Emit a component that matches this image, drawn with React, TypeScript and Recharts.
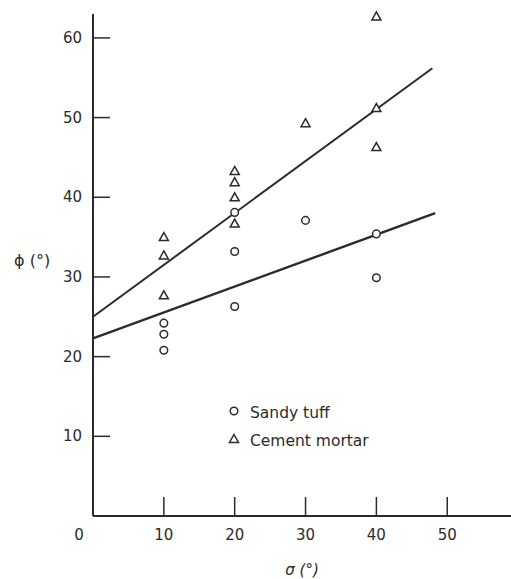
import { ScatterChart, Scatter, XAxis, YAxis, ReferenceLine, Legend, Label } from 'recharts';

// σ (°) vs ϕ (°)
const sandyTuff = [
  { sigma: 10, phi: 24.2 },
  { sigma: 10, phi: 22.8 },
  { sigma: 10, phi: 20.8 },
  { sigma: 20, phi: 38.1 },
  { sigma: 20, phi: 33.2 },
  { sigma: 20, phi: 26.3 },
  { sigma: 30, phi: 37.1 },
  { sigma: 40, phi: 35.4 },
  { sigma: 40, phi: 29.9 }
];

const cementMortar = [
  { sigma: 10, phi: 35.0 },
  { sigma: 10, phi: 32.7 },
  { sigma: 10, phi: 27.7 },
  { sigma: 20, phi: 43.3 },
  { sigma: 20, phi: 41.9 },
  { sigma: 20, phi: 40.0 },
  { sigma: 20, phi: 36.7 },
  { sigma: 30, phi: 49.3 },
  { sigma: 40, phi: 62.7 },
  { sigma: 40, phi: 51.2 },
  { sigma: 40, phi: 46.3 }
];

// fitted lines
const mortarFit = [{ x: 0, y: 25.0 }, { x: 47.9, y: 56.2 }];
const tuffFit = [{ x: 0, y: 22.3 }, { x: 48.3, y: 38.0 }];

const seriesNames = ['Sandy tuff', 'Cement mortar'];
const xTicks = [0, 10, 20, 30, 40, 50];
const yTicks = [10, 20, 30, 40, 50, 60];

const INK = '#2b2b2b';
const FONT = '"DejaVu Sans", sans-serif';

const CircleMark = (p: any) => (
  <circle cx={p.cx} cy={p.cy} r={3.8} fill="#fff" stroke={INK} strokeWidth={1.5} />
);

const TriangleMark = (p: any) => {
  const { cx, cy } = p;
  return (
    <path
      d={`M${cx},${cy - 4.5} L${cx + 4.5},${cy + 3.5} L${cx - 4.5},${cy + 3.5} Z`}
      fill="#fff"
      stroke={INK}
      strokeWidth={1.5}
    />
  );
};

const XTick = (p: any) => {
  const { x, y, payload } = p;
  const zero = payload.value === 0;
  return (
    <g>
      {!zero && <line x1={x} x2={x} y1={y} y2={y - 19} stroke={INK} strokeWidth={1.5} />}
      <text x={zero ? x - 14 : x} y={y + 24} textAnchor="middle" fill={INK} fontSize={15} fontFamily={FONT}>
        {payload.value}
      </text>
    </g>
  );
};

const YTick = (p: any) => {
  const { x, y, payload } = p;
  return (
    <g>
      <line x1={x} x2={x + 17} y1={y} y2={y} stroke={INK} strokeWidth={1.5} />
      <text x={x - 11} y={y + 5} textAnchor="end" fill={INK} fontSize={15} fontFamily={FONT}>
        {payload.value}
      </text>
    </g>
  );
};

const LegendBox = (props: any) => {
  const items = [...(props.payload || [])].sort(
    (a: any, b: any) => seriesNames.indexOf(a.value) - seriesNames.indexOf(b.value)
  );
  return (
    <svg width={180} height={60} style={{ overflow: 'visible' }}>
      {items.map((it: any, i: number) => (
        <g key={it.value} transform={`translate(0, ${i * 28})`}>
          {it.value === seriesNames[0] ? <CircleMark cx={6} cy={11} /> : <TriangleMark cx={6} cy={11} />}
          <text x={22} y={18} fill={INK} fontSize={15.5} fontFamily={FONT}>
            {it.value}
          </text>
        </g>
      ))}
    </svg>
  );
};

export default function App() {
  return (
    <div style={{ position: 'absolute', left: 0, top: 0, width: 511, height: 579, background: '#fff' }}>
      <ScatterChart width={511} height={579} margin={{ top: 14, right: 0, bottom: 0, left: 0 }}>
        <XAxis
          type="number"
          dataKey="sigma"
          domain={[0, 59]}
          ticks={xTicks}
          interval={0}
          tickSize={0}
          tickMargin={0}
          tickLine={false}
          tick={<XTick />}
          height={63}
          axisLine={{ stroke: INK, strokeWidth: 2 }}
        >
          <Label value="σ (°)" position="insideBottom" offset={4} fill={INK} fontSize={15} fontFamily={FONT} fontStyle="italic" />
        </XAxis>
        <YAxis
          type="number"
          dataKey="phi"
          domain={[0, 63]}
          ticks={yTicks}
          interval={0}
          tickSize={0}
          tickMargin={0}
          tickLine={false}
          tick={<YTick />}
          width={93}
          axisLine={{ stroke: INK, strokeWidth: 2 }}
        >
          <Label value="ϕ (°)" position="insideLeft" offset={14} dy={-5} fill={INK} fontSize={16} fontFamily={FONT} />
        </YAxis>
        <ReferenceLine segment={mortarFit} stroke={INK} strokeWidth={2} ifOverflow="visible" />
        <ReferenceLine segment={tuffFit} stroke={INK} strokeWidth={2.4} ifOverflow="visible" />
        <Scatter name={seriesNames[0]} data={sandyTuff} shape={CircleMark} isAnimationActive={false} />
        <Scatter name={seriesNames[1]} data={cementMortar} shape={TriangleMark} isAnimationActive={false} />
        <Legend
          layout="horizontal"
          align="center"
          verticalAlign="middle"
          content={<LegendBox />}
          wrapperStyle={{ position: 'absolute', left: 228, top: 400, width: 180, height: 60 }}
        />
      </ScatterChart>
    </div>
  );
}
